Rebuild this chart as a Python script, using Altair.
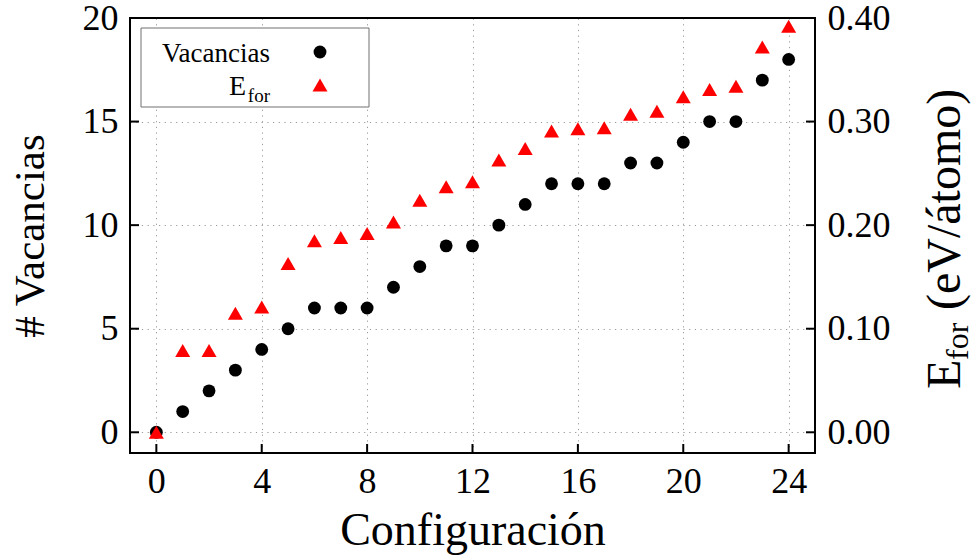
import altair as alt
import pandas as pd

# ---- data ----
configs = list(range(25))
vacancias = [0, 1, 2, 3, 4, 5, 6, 6, 6, 7, 8, 9, 9, 10, 11, 12, 12, 12, 13, 13, 14, 15, 15, 17, 18]
e_for = [0.000, 0.079, 0.079, 0.115, 0.121, 0.163, 0.185, 0.188, 0.192, 0.203, 0.224, 0.237,
         0.242, 0.263, 0.274, 0.291, 0.293, 0.294, 0.307, 0.310, 0.324, 0.331, 0.334, 0.372, 0.392]
x_ticks = [0, 4, 8, 12, 16, 20, 24]
left_ticks = [0, 5, 10, 15, 20]
right_ticks = [0.0, 0.1, 0.2, 0.3, 0.4]

W, H = 685, 435
FONT = "Liberation Serif"
GRID = "#9a9a9a"

df = pd.DataFrame({"config": configs, "vac": vacancias, "efor": e_for})
df_xt = pd.DataFrame({"config": x_ticks})
df_lt = pd.DataFrame({"vac": left_ticks})
df_rt = pd.DataFrame({"efor": right_ticks})

xscale = alt.Scale(domain=[-1, 25], nice=False, zero=False)
xaxis = alt.Axis(values=x_ticks, title="Configuración", grid=True, gridColor=GRID,
                 gridDash=[1.2, 4.5], gridWidth=1, domain=False, ticks=False, tickSize=0,
                 labelPadding=11, titlePadding=9, titleFontSize=46)
xenc = alt.X("config:Q", scale=xscale, axis=xaxis)

lscale = alt.Scale(domain=[-1, 20], nice=False, zero=False)
laxis = alt.Axis(values=left_ticks, title="# Vacancias", orient="left", grid=True,
                 gridColor=GRID, gridDash=[1.2, 4.5], gridWidth=1, domain=False,
                 ticks=False, tickSize=0, labelPadding=12, titlePadding=30,
                 titleFontSize=43, format="d")
lenc = alt.Y("vac:Q", scale=lscale, axis=laxis)

rscale = alt.Scale(domain=[-0.02, 0.40], nice=False, zero=False)
raxis = alt.Axis(values=right_ticks, title=None, orient="right", grid=False, domain=False,
                 ticks=False, tickSize=0, labelPadding=12, format=".2f")
renc = alt.Y("efor:Q", scale=rscale, axis=raxis)

circles = alt.Chart(df).mark_point(filled=True, shape="circle", size=165, color="black",
                                   opacity=1).encode(x=xenc, y=lenc)
bticks = alt.Chart(df_xt).mark_rule(color="black", strokeWidth=2).encode(
    x=xenc, y=alt.value(H), y2=alt.value(H - 9))
lticks = alt.Chart(df_lt).mark_rule(color="black", strokeWidth=2).encode(
    y=lenc, x=alt.value(0), x2=alt.value(9))
left = alt.layer(circles, bticks, lticks)

TRI = "M0,-0.866L1,0.866L-1,0.866Z"
triangles = alt.Chart(df).mark_point(filled=True, shape=TRI, size=225, color="#ff0000",
                                     opacity=1).encode(x=xenc, y=renc)
rticks = alt.Chart(df_rt).mark_rule(color="black", strokeWidth=2).encode(
    y=renc, x=alt.value(W - 9), x2=alt.value(W))
right = alt.layer(triangles, rticks)

one = alt.Data(values=[{}])
frame = alt.Chart(one).mark_rect(fill=None, fillOpacity=0, stroke="black", strokeWidth=2).encode(
    x=alt.value(0), x2=alt.value(W), y=alt.value(0), y2=alt.value(H))

# legend
lbox = alt.Chart(one).mark_rect(fill="white", stroke="#707070", strokeWidth=1).encode(
    x=alt.value(11), x2=alt.value(239), y=alt.value(10), y2=alt.value(89))
ltext1 = alt.Chart(one).mark_text(text="Vacancias", font=FONT, fontSize=27, align="right",
                                  baseline="alphabetic", color="black").encode(
    x=alt.value(140), y=alt.value(44))
ltext2 = alt.Chart(one).mark_text(text="E", font=FONT, fontSize=28, align="right",
                                  baseline="alphabetic", color="black").encode(
    x=alt.value(116), y=alt.value(77))
ltext3 = alt.Chart(one).mark_text(text="for", font=FONT, fontSize=19, align="right",
                                  baseline="alphabetic", color="black").encode(
    x=alt.value(140), y=alt.value(84))
lsym1 = alt.Chart(one).mark_point(filled=True, shape="circle", size=165, color="black",
                                  opacity=1).encode(x=alt.value(190), y=alt.value(34))
lsym2 = alt.Chart(one).mark_point(filled=True, shape=TRI, size=225, color="#ff0000",
                                  opacity=1).encode(x=alt.value(190), y=alt.value(67))

# right axis title with subscript
rt1 = alt.Chart(one).mark_text(text="E", font=FONT, fontSize=48, angle=270, align="left",
                               baseline="alphabetic", color="black").encode(
    x=alt.value(830), y=alt.value(371))
rt2 = alt.Chart(one).mark_text(text="for", font=FONT, fontSize=32, angle=270, align="left",
                               baseline="alphabetic", color="black").encode(
    x=alt.value(838), y=alt.value(342))
rt3 = alt.Chart(one).mark_text(text="(eV/átomo)", font=FONT, fontSize=48, angle=270,
                               align="left", baseline="alphabetic", color="black").encode(
    x=alt.value(830), y=alt.value(292))

chart = alt.layer(left, right, frame, lbox, ltext1, ltext2, ltext3, lsym1, lsym2,
                  rt1, rt2, rt3).resolve_scale(y="independent").properties(
    width=W, height=H,
    autosize=alt.AutoSizeParams(type="none"),
    padding={"left": 130, "top": 18, "right": 158, "bottom": 107},
    background="white",
).configure_view(stroke=None).configure_axis(
    labelFont=FONT, labelFontSize=36, labelColor="black",
    titleFont=FONT, titleFontWeight="normal", titleColor="black",
)

chart.save("out.html", embed_options={"renderer": "svg", "actions": False})
